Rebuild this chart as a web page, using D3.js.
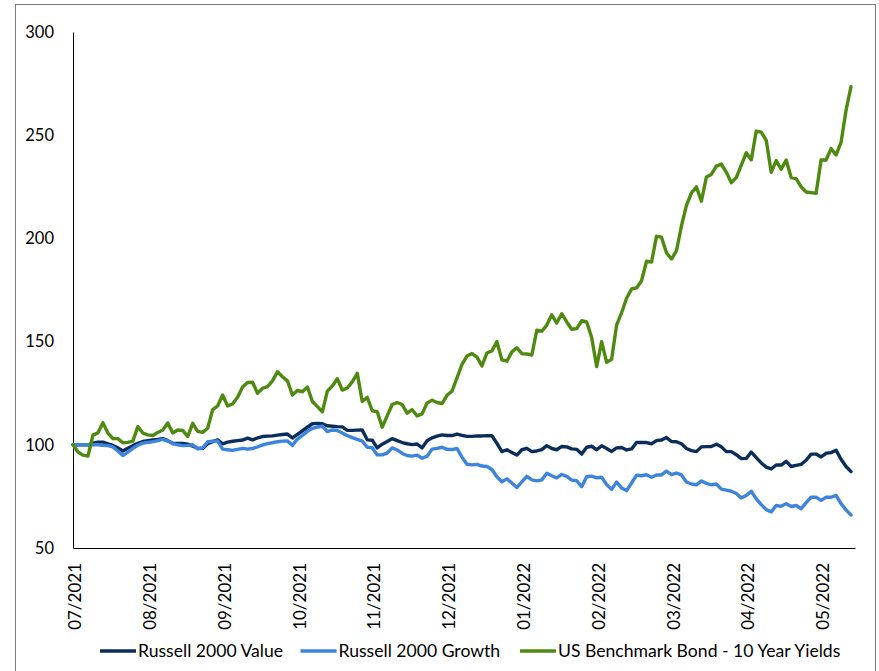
<!DOCTYPE html>
<html><head><meta charset="utf-8">
<script src="https://cdn.jsdelivr.net/npm/d3@7"></script>
<style>
body{margin:0;background:#fff}
svg{display:block}
text{font-family:Lato,"Carlito","Noto Sans",sans-serif;fill:#000}
</style>
</head><body>
<svg id="chart" width="879" height="671"></svg>
<script>
const seriesNames = ["Russell 2000 Value","Russell 2000 Growth","US Benchmark Bond - 10 Year Yields"];
const seriesColors = ["#0b2d5b","#3d85dc","#4f8a10"];
const xTickLabels = ["07/2021","08/2021","09/2021","10/2021","11/2021","12/2021","01/2022","02/2022","03/2022","04/2022","05/2022"];
const yTicks = [50,100,150,200,250,300];
const pointsPerTick = 15;

const valueSeries = [
100,100,100,100,100.8,101.3,101.3,100.5,99.7,98.5,
97,98.3,99.6,100.7,101.6,102,102.3,102.6,103,102,
100.7,100.7,100.7,100.3,99.4,98.3,98.2,100.5,101.5,102.4,
100.5,101.3,101.7,102,102.3,103.2,102.4,103.3,104,104.2,
104.3,104.7,105,105.2,103.3,105,106.8,108.5,110.2,110.4,
110.2,109.2,109,108.8,108.7,107,107,107.1,107.2,102.4,
102.2,98.5,100.3,101.6,103,102,101.1,100.5,100.1,100.4,
98.5,102,103.4,104.2,104.8,104.5,104.5,105.2,104.6,104.1,
104.1,104.3,104.3,104.4,104.4,100.7,96.7,97.6,96.3,95,
97.6,98.3,96.7,97,97.7,99.6,98.2,97.6,99.2,99,
98,97.8,95.5,98.8,99.3,97.6,99.5,98.2,96.8,98.5,
98.7,97.5,98,101.1,101.1,101.1,100.5,102,102.3,103.5,
101.6,101.5,100.5,98.2,97.2,96.7,99,99.1,99.2,100.3,
99,96.7,96.7,95.2,93.3,93.4,96.5,93.8,91.2,89.2,
88.3,90.2,90.2,92,89.5,90,90.5,92.5,95.5,95.5,
94.1,95.9,96.2,97.4,93,89.5,87];

const growthSeries = [
100,100,100,100,100,100,99.8,99.6,99,97,
94.8,96.5,98.3,99.8,100.8,101.2,101.5,102,102.6,101.8,
100.5,100,99.6,99.7,100,98,98.5,101.5,101.7,101.9,
97.9,97.6,97.3,97.8,98.3,97.9,98.2,99,99.9,100.6,
101,101.5,101.8,101.9,99.7,102.8,104.6,106.5,108,108.6,
109,106.4,107.2,106.9,105.7,104.4,103.5,102.6,101.8,98.8,
98.6,95.1,95.1,96,98.5,97.5,95.8,94.8,94.5,95,
93.5,94.5,97.9,98.3,98.8,97.8,97.7,98.2,94,90.6,
90.3,90.5,89.7,89.5,88,84.5,82.1,83.5,81.5,79.3,
82.1,84.7,83,82.5,83,86.2,85,84,85.6,84.7,
82.9,82.6,79.7,84.5,84.8,84,84.3,80.7,78.4,81.9,
79.1,77.8,81.5,85.3,85,85.5,84.3,85.4,85.4,87.3,
85.5,86.3,85.4,82,81,80.6,82.5,81.3,80.6,81,
78.5,78,77.5,76.4,74.3,75.4,77.5,73.8,71,68.6,
67.5,70.6,70.2,71.5,70.1,70.6,69,72,74.6,74.6,
73.1,74.6,74.6,75.5,71.5,68.5,66];

const yieldSeries = [
100,96.5,95,94.5,104.7,105.8,110.7,105.7,103,103,
101,101.2,101.8,108.8,105.7,104.8,104.5,106,107.2,110.6,
105.7,107.2,107,104,110.4,106.5,106,108,117,118.8,
124.1,118.8,119.8,123,128,130.2,130.3,125,127.4,128.2,
131,135.4,133,131,124.1,126.3,125.7,128,121,118.5,
116,126,128.5,132,126.5,127.5,130.5,134.6,121,123,
116.5,116,108.5,114,119.5,120.5,119.5,115.3,117,114,
115,120.3,121.6,120.5,120,124,126,132.5,139,143,
144.2,142.5,138.2,144.5,145.5,150,141.1,140.5,145,147,
144.2,144,143.5,155.5,155,158,163,159,163.5,159.5,
156,156.3,160.1,159.5,152,137.9,150,140,141.4,158,
164,171,175.5,176,179.5,189,188.5,201,200.6,193,
190,194,206,216,222,225,218,229.7,231,235,
236,232,227,229.5,235.5,241.5,238,252,251.5,247.5,
232,237.7,233.5,238,229.5,229,225,222.5,222.2,221.8,
238,238,243.5,240.4,246.5,262,273.5];

const allSeries = [valueSeries, growthSeries, yieldSeries];
const N = valueSeries.length;

const svg = d3.select("#chart");
svg.append("rect").attr("x",15.5).attr("y",4.5).attr("width",860).attr("height",720)
  .attr("fill","#fff").attr("stroke","#7a7a7a").attr("stroke-width",1);

const x = d3.scaleLinear().domain([0, N - 1 + 0.8]).range([73, 855]);
const y = d3.scaleLinear().domain([50, 300]).range([548, 32]);

// Y axis
const yAxis = svg.append("g").attr("transform","translate(73,0)")
  .call(d3.axisLeft(y).tickValues(yTicks).tickSize(0).tickPadding(19));
yAxis.select(".domain").attr("stroke","#000").attr("stroke-width",1);
yAxis.selectAll("text").attr("font-size","16.5px").attr("font-family","Lato, Carlito, sans-serif").attr("fill","#000");

// X axis
const xAxis = svg.append("g").attr("transform","translate(0,548)")
  .call(d3.axisBottom(x).tickValues(d3.range(0, N, pointsPerTick))
    .tickFormat((d,i)=>xTickLabels[i]).tickSize(0).tickSizeOuter(0));
xAxis.select(".domain").attr("stroke","#000").attr("stroke-width",1);
xAxis.selectAll("text")
  .attr("font-size","17px").attr("font-family","Lato, Carlito, sans-serif").attr("fill","#000")
  .attr("transform","rotate(-90)").attr("text-anchor","end")
  .attr("x",-15).attr("y",0).attr("dy","0.45em");

// Lines
const line = d3.line().x((d,i)=>x(i)).y(d=>y(d));
allSeries.forEach((s,k)=>{
  svg.append("path").datum(s).attr("d",line)
    .attr("fill","none").attr("stroke",seriesColors[k]).attr("stroke-width",3.4)
    .attr("stroke-linejoin","round").attr("stroke-linecap","round");
});

// Legend
const legendX = [100, 300.5, 520];
const legendY = 651;
seriesNames.forEach((name,k)=>{
  const g = svg.append("g");
  g.append("line").attr("x1",legendX[k]).attr("x2",legendX[k]+36)
    .attr("y1",legendY).attr("y2",legendY)
    .attr("stroke",seriesColors[k]).attr("stroke-width",3.5);
  g.append("text").attr("x",legendX[k]+38).attr("y",legendY).attr("dy","0.35em")
    .attr("font-size","17.6px").text(name);
});
</script>
</body></html>
